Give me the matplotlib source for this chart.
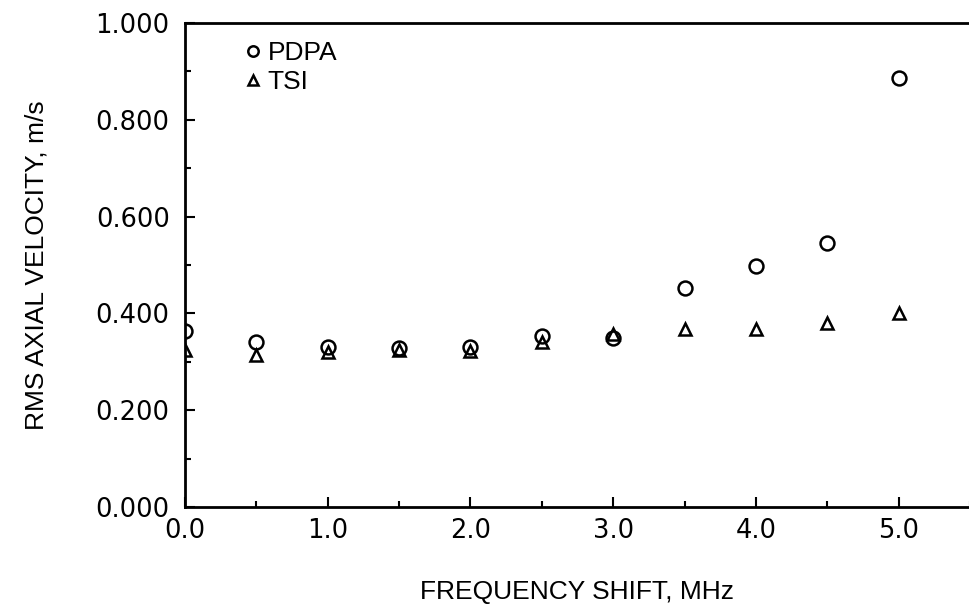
import numpy as np
import matplotlib.pyplot as plt
from matplotlib.ticker import MultipleLocator, FormatStrFormatter

plt.rcParams['font.family'] = ['Liberation Sans', 'DejaVu Sans']

# data
shift = [0.0, 0.5, 1.0, 1.5, 2.0, 2.5, 3.0, 3.5, 4.0, 4.5, 5.0]
pdpa = [0.364, 0.340, 0.331, 0.328, 0.331, 0.353, 0.349, 0.452, 0.498, 0.545, 0.886]
tsi = [0.324, 0.314, 0.320, 0.325, 0.322, 0.340, 0.357, 0.368, 0.367, 0.380, 0.401]

fig = plt.figure(figsize=(9.7, 6.16), dpi=100)
ax = fig.add_axes([0.1907, 0.177, 0.8093, 0.7857])

ax.plot(shift, pdpa, 'o', mfc='none', mec='black', ms=10, mew=1.8, label='PDPA')
ax.plot(shift, tsi, '^', mfc='none', mec='black', ms=9, mew=1.8, label='TSI')

ax.set_xlim(0, 5.5)
ax.set_ylim(0, 1.0)
ax.xaxis.set_major_locator(MultipleLocator(1.0))
ax.xaxis.set_minor_locator(MultipleLocator(0.5))
ax.yaxis.set_major_locator(MultipleLocator(0.2))
ax.yaxis.set_minor_locator(MultipleLocator(0.1))
ax.xaxis.set_major_formatter(FormatStrFormatter('%.1f'))
ax.yaxis.set_major_formatter(FormatStrFormatter('%.3f'))
ax.tick_params(which='both', direction='in', width=1.5)
ax.tick_params(which='major', length=7, pad=8)
ax.tick_params(which='minor', length=4)
ax.tick_params(axis='y', pad=11)
for lab in ax.get_xticklabels() + ax.get_yticklabels():
    lab.set_fontfamily('DejaVu Sans')
    lab.set_fontsize(18.5)
ax.spines['right'].set_visible(False)
for s in ['left', 'bottom', 'top']:
    ax.spines[s].set_linewidth(2)

ax.set_xlabel('FREQUENCY SHIFT, MHz', fontsize=19, labelpad=26)
ax.set_ylabel('RMS AXIAL VELOCITY, m/s', fontsize=19, labelpad=34)

ax.legend(loc='upper left', bbox_to_anchor=(0.065, 0.985), frameon=False, fontsize=19,
          handlelength=0.5, handletextpad=0.3, labelspacing=0.2, borderaxespad=0.0,
          markerscale=0.75)

fig.savefig('out.png', dpi=100)
